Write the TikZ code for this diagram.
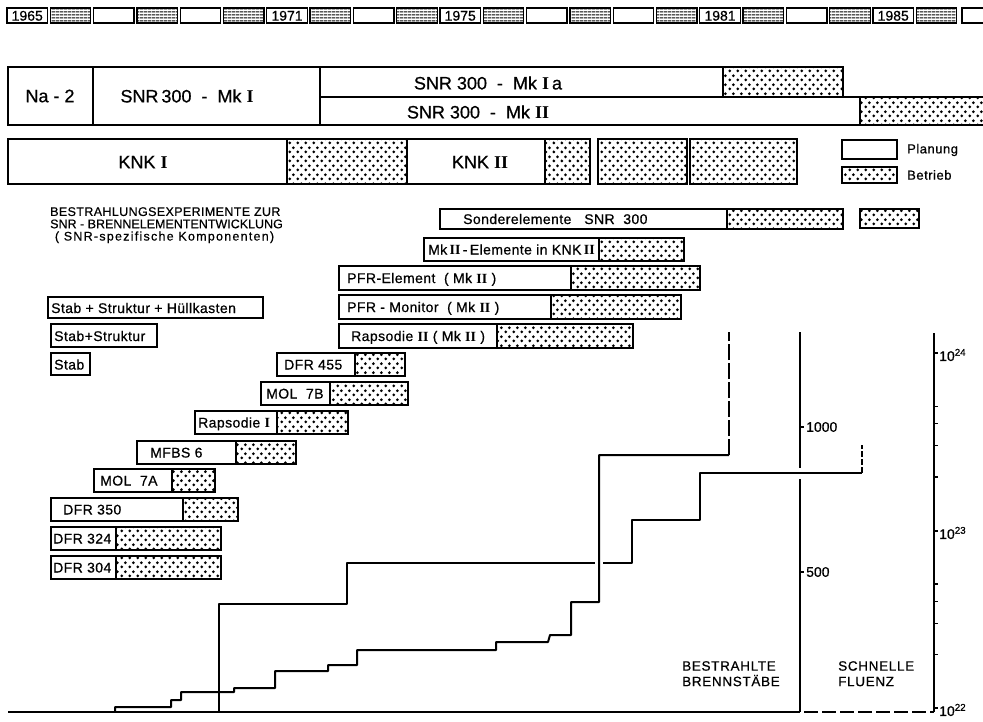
\documentclass[tikz,border=0pt]{standalone}
\usepackage{fontspec}
\setmainfont{Liberation Sans}[FakeBold=0.6]
\newfontfamily\romfont{Liberation Serif}
\usetikzlibrary{patterns}
\pgfdeclarepatternformonly{bigdots}{\pgfqpoint{0pt}{0pt}}{\pgfqpoint{8pt}{9pt}}{\pgfqpoint{8pt}{9pt}}{%
  \pgfpathcircle{\pgfqpoint{2pt}{2.25pt}}{1.65pt}%
  \pgfpathcircle{\pgfqpoint{6pt}{6.75pt}}{1.65pt}%
  \pgfusepath{fill}}
\pgfdeclarepatternformonly{hlinesx}{\pgfqpoint{0pt}{0pt}}{\pgfqpoint{4pt}{2.6pt}}{\pgfqpoint{4pt}{2.6pt}}{%
  \pgfsetlinewidth{1.1pt}%
  \pgfpathmoveto{\pgfqpoint{0pt}{1.3pt}}%
  \pgfpathlineto{\pgfqpoint{4pt}{1.3pt}}%
  \pgfusepath{stroke}}
\newcommand\fsz[1]{\fontsize{#1}{#1}\selectfont}
\newcommand\romI{{\romfont\bfseries I}}
\newcommand\romII{{\romfont\bfseries II}}
\newcommand\gbar[8]{%
  \draw[plan] (#2,#3) rectangle (#4,#6);
  \draw[oper] (#4,#3) rectangle (#5,#6);
  \node[lbl, anchor=base west] (#1) at (#7,{(#3+#6)/2+5}) {#8};
}
\begin{document}
\begin{tikzpicture}[x=1pt,y=-1pt,
  plan/.style={draw, line width=1.5pt, fill=white},
  oper/.style={draw, line width=1.5pt, pattern=bigdots},
  cellbox/.style={draw, line width=1.3pt},
  lbl/.style={inner sep=0pt, font=\fsz{14}\addfontfeatures{LetterSpace=3}},
  big/.style={inner sep=0pt, font=\fsz{18}},
  curve/.style={line width=2pt, line join=round},
  axis/.style={line width=2.4pt}]
\useasboundingbox (0,0) rectangle (983,721);

% timeline strip
\foreach \i/\yr in {0/1965,6/1971,10/1975,16/1981,20/1985}{
  \draw[cellbox] ({7+43.3*\i},8) rectangle ({47.5+43.3*\i},23);
  \node[inner sep=0pt, font=\fsz{14}] (y\yr) at ({27.25+43.3*\i},15.8) {\yr};
}
\foreach \i in {1,3,...,21}{
  \draw[cellbox, pattern=hlinesx] ({7+43.3*\i},8) rectangle ({47.5+43.3*\i},23);
}
\foreach \i in {2,4,8,12,14,18}{
  \draw[cellbox] ({7+43.3*\i},8) rectangle ({47.5+43.3*\i},23);
}
\draw[cellbox] (986,8) -- (962,8) -- (962,23) -- (986,23);

% reactor block
\draw[plan] (8,67) rectangle (320,125);
\draw[line width=1.5pt] (93,67) -- (93,125);
\draw[plan] (320,67) rectangle (723,97);
\draw[oper] (723,67) rectangle (843,97);
\draw[plan] (320,97) rectangle (860,125);
\draw[oper] (860,97) rectangle (986,125);
\node[big] (na2) at (50,96) {Na - 2};
\node[big] (mk1) at (187,96) {SNR\,300 \ - \ Mk \romI};
\node[big] (mk1a) at (488,83) {SNR 300 \ - \ Mk \romI\,a};
\node[big] (mk2) at (478,112) {SNR 300 \ - \ Mk \romII};

% KNK
\draw[plan] (8,139) rectangle (287,184);
\draw[oper] (287,139) rectangle (407,184);
\draw[plan] (407,139) rectangle (545,184);
\draw[oper] (545,139) rectangle (590,184);
\draw[oper] (598,139) rectangle (687,184);
\draw[oper] (690,139) rectangle (797,184);
\node[big] (knk1) at (143,162) {KNK \romI};
\node[big] (knk2) at (480,162) {KNK \romII};

% legend
\draw[plan] (842,140) rectangle (897,159);
\draw[oper] (842,167) rectangle (897,183);
\node[inner sep=0pt, anchor=west, font=\fsz{13}\addfontfeatures{LetterSpace=4}] (lplan) at (907,150) {Planung};
\node[inner sep=0pt, anchor=west, font=\fsz{13}\addfontfeatures{LetterSpace=4}] (lbetr) at (907,175) {Betrieb};

% heading
\node[inner sep=0pt, anchor=north west, align=left, font=\fontsize{12.5}{12.3}\selectfont] (head) at (50,207)
  {{\addfontfeatures{LetterSpace=3}BESTRAHLUNGSEXPERIMENTE ZUR}\\
   {SNR - BRENNELEMENTENTWICKLUNG}\\
   {\addfontfeatures{LetterSpace=10}\ ( SNR-spezifische Komponenten)}};

% component boxes
\draw[plan] (48,297) rectangle (263,318);
\node[lbl, anchor=base west] (shk) at (51,313) {Stab + Struktur + Hüllkasten};
\draw[plan] (51,324) rectangle (157,347);
\node[lbl, anchor=base west] (sst) at (54,341) {Stab+Struktur};
\draw[plan] (51,353) rectangle (90,375);
\node[lbl, anchor=base west] (stab) at (54,369.5) {Stab};

% experiment bars
\draw[plan] (440,209) rectangle (727,229);
\draw[oper] (727,209) rectangle (843,229);
\draw[oper] (860,209) rectangle (919,228);
\node[lbl, anchor=base west] (sonder) at (463,224) {Sonderelemente \ \ SNR \ 300};
\gbar{mk2knk}{424}{238}{599}{684}{261}{428}{Mk\,\romII\,-\,Elemente in KNK\,\romII}
\gbar{pfrel}{339}{266}{571}{700}{290}{347}{PFR-Element \ ( Mk \romII\ )}
\gbar{pfrmo}{339}{295}{551}{681}{319}{347}{PFR - Monitor \ ( Mk \romII\ )}
\gbar{raps2}{339}{324}{497}{633}{348}{351}{Rapsodie \romII\ ( Mk \romII\ )}
\gbar{dfr455}{277}{353}{355}{405}{376}{284}{DFR 455}
\gbar{mol7b}{261}{382}{330}{408}{405}{266}{MOL \ 7B}
\gbar{raps1}{195}{411}{277}{348}{434}{198}{Rapsodie \romI}
\gbar{mfbs6}{137}{441}{236}{296}{464}{150}{MFBS 6}
\gbar{mol7a}{94}{469}{172}{215}{492}{100}{MOL \ 7A}
\gbar{dfr350}{51}{498}{183}{238}{521}{63}{DFR 350}
\gbar{dfr324}{51}{527}{116}{221}{550}{53}{DFR 324}
\gbar{dfr304}{51}{556}{116}{221}{579}{53}{DFR 304}

% curves
\draw[curve] (219,712) -- (219,604) -- (347,604) -- (347,563) -- (595,563);
\draw[curve] (603,563) -- (632,563) -- (632,520) -- (700,520) -- (700,473) -- (862,473);
\draw[curve, dash pattern=on 6pt off 2pt] (862,473) -- (862,445);
\draw[curve] (115,712) -- (115,707) -- (171,707) -- (171,700) -- (181,700) -- (181,692)
  -- (234,692) -- (234,688) -- (275,688) -- (275,671) -- (328,671) -- (328,665)
  -- (357,665) -- (357,650) -- (496,650) -- (496,642) -- (548,642) -- (550,635)
  -- (571,635) -- (571,602) -- (599,602) -- (599,455) -- (729,455);
\draw[curve, dash pattern=on 16pt off 3pt] (729,455) -- (729,332);

% axes
\draw[line width=2pt] (8,712) -- (800,712);
\draw[line width=2pt, dash pattern=on 14pt off 4pt] (804,712) -- (934,712);
\draw[axis] (800,332) -- (800,468);
\draw[axis] (800,479) -- (800,712);
\draw[axis] (934,333) -- (934,712);
\draw[line width=1.2pt] (800,427) -- (804,427) (800,572) -- (804,572);
\node[inner sep=0pt, anchor=west, font=\fsz{14}] (a1000) at (806,427) {1000};
\node[inner sep=0pt, anchor=west, font=\fsz{14}] (a500) at (806,572) {500};
\foreach \d in {22,23}{
  \foreach \k in {2,3,4,5}{
    \draw[line width=1.2pt] (934,{708-177.5*(\d-22+log10(\k))}) -- (938,{708-177.5*(\d-22+log10(\k))});
  }
}
\draw[line width=1.2pt] (934,708) -- (938,708) (934,531) -- (938,531) (934,353) -- (938,353);
\node[inner sep=0pt, anchor=west, font=\fsz{14}] (f24) at (939,355) {10\textsuperscript{24}};
\node[inner sep=0pt, anchor=west, font=\fsz{14}] (f23) at (939,533) {10\textsuperscript{23}};
\node[inner sep=0pt, anchor=west, font=\fsz{14}] (f22) at (939,710) {10\textsuperscript{22}};

% axis captions
\node[inner sep=0pt, anchor=north west, align=left, font=\fontsize{13.5}{15.5}\selectfont\addfontfeatures{LetterSpace=5}] (capb) at (682,661) {BESTRAHLTE\\BRENNSTÄBE};
\node[inner sep=0pt, anchor=north west, align=left, font=\fontsize{13.5}{15.5}\selectfont\addfontfeatures{LetterSpace=5}] (capf) at (838,661) {SCHNELLE\\FLUENZ};
\end{tikzpicture}
\end{document}
